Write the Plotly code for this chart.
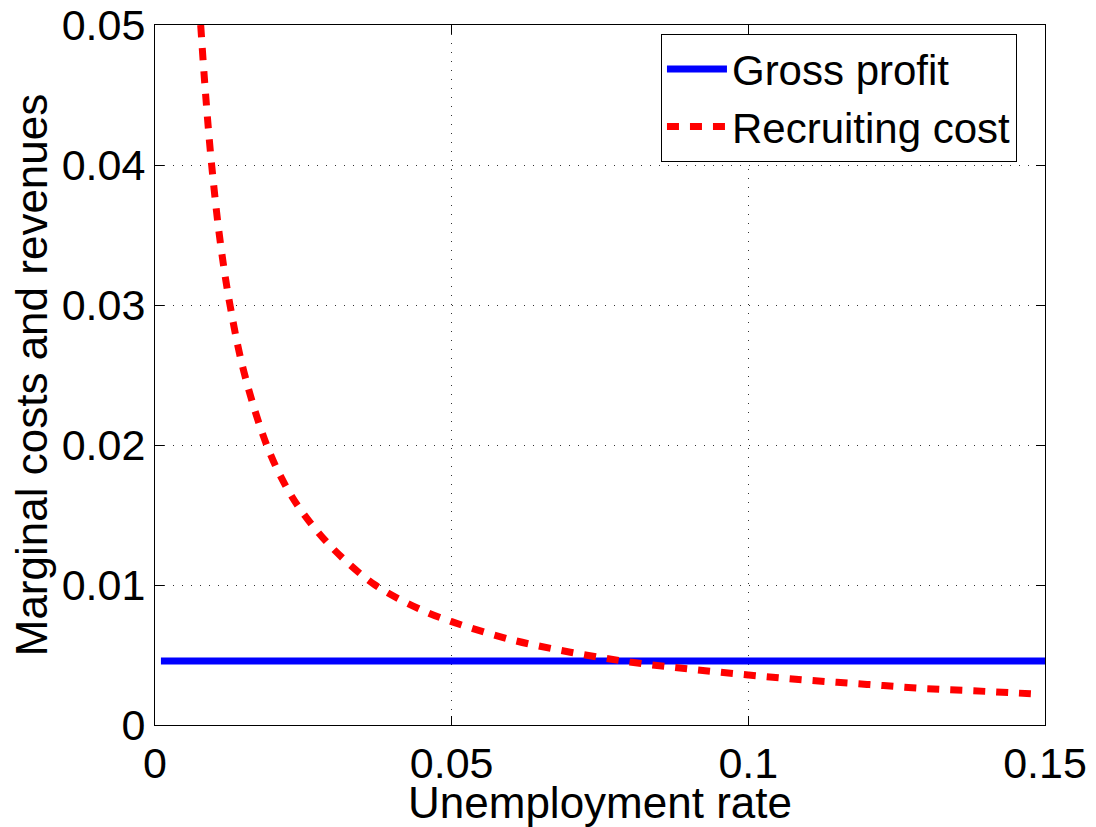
import plotly.graph_objects as go

# Data
gross_u = [0.001, 0.15]
gross_val = [0.00457, 0.00457]

recruit_u = [0.0077, 0.0085, 0.00955, 0.011, 0.01264, 0.015, 0.01882, 0.022, 0.025,
             0.03, 0.0371, 0.045, 0.05, 0.06, 0.07, 0.08, 0.09, 0.1, 0.11, 0.12,
             0.13, 0.14, 0.149]
recruit_val = [0.05, 0.0452, 0.04, 0.0345, 0.03, 0.0252, 0.02, 0.0171, 0.0151,
               0.0126, 0.01, 0.0082, 0.00738, 0.0061, 0.0052, 0.0045, 0.0040, 0.00357,
               0.0032, 0.0029, 0.0026, 0.0024, 0.0022]

x_ticks = [0, 0.05, 0.1, 0.15]
x_ticktext = ["0", "0.05", "0.1", "0.15"]
y_ticks = [0, 0.01, 0.02, 0.03, 0.04, 0.05]
y_ticktext = ["0", "0.01", "0.02", "0.03", "0.04", "0.05"]

FONT = "Liberation Sans, Arial, sans-serif"

fig = go.Figure()
fig.add_trace(go.Scatter(x=gross_u, y=gross_val, mode="lines", name="Gross profit",
                         line=dict(color="#0000ff", width=7)))
fig.add_trace(go.Scatter(x=recruit_u, y=recruit_val, mode="lines", name="Recruiting cost",
                         line=dict(color="#ff0000", width=7, dash="12px,11px", shape="spline")))

axis_common = dict(
    showline=True, linecolor="black", linewidth=1, mirror="ticks",
    ticks="inside", ticklen=9, tickcolor="black", tickwidth=1,
    showgrid=True, gridcolor="#333333", gridwidth=1, griddash="1px,8px",
    zeroline=False, automargin=False,
    tickfont=dict(size=43, color="black", family=FONT),
)

fig.update_xaxes(range=[0, 0.15], tickvals=x_ticks, ticktext=x_ticktext,
                 title=dict(text="Unemployment rate", font=dict(size=44, color="black", family=FONT), standoff=0),
                 **axis_common)
fig.update_yaxes(range=[0, 0.05], tickvals=y_ticks, ticktext=y_ticktext,
                 title=dict(text="Marginal costs and revenues", font=dict(size=44, color="black", family=FONT), standoff=0),
                 **axis_common)

fig.update_layout(
    width=1096, height=827,
    margin=dict(l=155, r=51, t=25, b=102),
    paper_bgcolor="white", plot_bgcolor="white",
    font=dict(family=FONT, color="black"),
    showlegend=True,
    legend=dict(x=0.5685, y=0.987, xanchor="left", yanchor="top",
                bordercolor="black", borderwidth=1, bgcolor="white",
                font=dict(size=42, color="black", family=FONT),
                tracegroupgap=0, itemwidth=60),
)

fig.write_html("out.html")
